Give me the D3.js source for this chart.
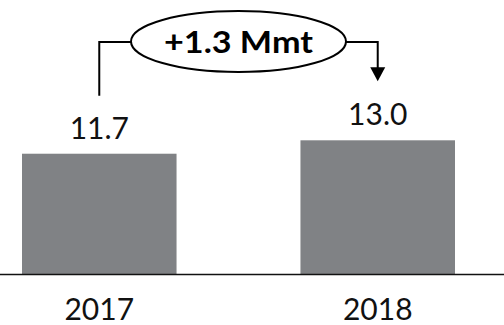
<!DOCTYPE html>
<html>
<head>
<meta charset="utf-8">
<script src="https://cdn.jsdelivr.net/npm/d3@7"></script>
<style>
  html, body { margin: 0; padding: 0; background: #fff; }
  svg { display: block; }
</style>
</head>
<body>
<svg id="chart" width="504" height="325"></svg>
<script>
// Production by year (million metric tons)
const years = ["2017", "2018"];
const values = [11.7, 13.0];
const unit = "Mmt";

const W = 504, H = 325;
const baseY = 274.5;
const font = "Lato, 'Open Sans', sans-serif";

const svg = d3.select("#chart");

const x = d3.scaleBand()
  .domain(years)
  .range([22, 455])
  .paddingInner(0.445)
  .paddingOuter(0);

const y = d3.scaleLinear()
  .domain([0, 13])
  .range([baseY, 140.3]);

// Bars
svg.selectAll("rect.bar")
  .data(years)
  .join("rect")
  .attr("class", "bar")
  .attr("x", d => x(d))
  .attr("width", x.bandwidth())
  .attr("y", (d, i) => y(values[i]))
  .attr("height", (d, i) => baseY - y(values[i]))
  .attr("fill", "#808285");

// Baseline across the full width
svg.append("line")
  .attr("x1", 0).attr("x2", W)
  .attr("y1", baseY).attr("y2", baseY)
  .attr("stroke", "#111")
  .attr("stroke-width", 1.5);

// Value labels
svg.selectAll("text.val")
  .data(years)
  .join("text")
  .attr("class", "val")
  .attr("x", d => x(d) + x.bandwidth() / 2)
  .attr("y", (d, i) => y(values[i]) - 15)
  .attr("text-anchor", "middle")
  .attr("font-family", font)
  .attr("font-size", 30)
  .attr("fill", "#111")
  .text((d, i) => values[i].toFixed(1));

// Category labels
const xAxis = d3.axisBottom(x).tickSize(0).tickPadding(0);
const gx = svg.append("g")
  .attr("transform", `translate(0,${baseY})`)
  .call(xAxis);
gx.select(".domain").remove();
gx.selectAll("text")
  .attr("font-family", font)
  .attr("font-size", 30)
  .attr("fill", "#111")
  .attr("dy", null)
  .attr("y", 45);

// Change annotation: bracket from 2017 to 2018 with an ellipse callout
const cx0 = x(years[0]) + x.bandwidth() / 2;
const cx1 = x(years[1]) + x.bandwidth() / 2;
const lineY = 42;
const ell = { cx: 238.5, cy: 41.5, rx: 107.5, ry: 30.5 };
const tipY = y(values[1]) - 59;
const headH = 14, headW = 15;

const g = svg.append("g")
  .attr("fill", "none")
  .attr("stroke", "#000")
  .attr("stroke-width", 2);

g.append("path")
  .attr("d", `M${cx0},${y(values[0]) - 58}V${lineY}H${ell.cx - ell.rx}`);

g.append("path")
  .attr("d", `M${ell.cx + ell.rx},${lineY}H${cx1}V${tipY - headH + 1}`);

svg.append("path")
  .attr("d", `M${cx1 - headW / 2},${tipY - headH}L${cx1 + headW / 2},${tipY - headH}L${cx1},${tipY}Z`)
  .attr("fill", "#000");

g.append("ellipse")
  .attr("cx", ell.cx).attr("cy", ell.cy)
  .attr("rx", ell.rx).attr("ry", ell.ry)
  .attr("fill", "#fff");

const delta = values[1] - values[0];
svg.append("text")
  .attr("x", ell.cx)
  .attr("y", 53.3)
  .attr("text-anchor", "middle")
  .attr("font-family", font)
  .attr("font-weight", "bold")
  .attr("font-size", 29.5)
  .attr("textLength", 149)
  .attr("lengthAdjust", "spacingAndGlyphs")
  .attr("fill", "#000")
  .text(`${delta >= 0 ? "+" : ""}${delta.toFixed(1)} ${unit}`);
</script>
</body>
</html>
